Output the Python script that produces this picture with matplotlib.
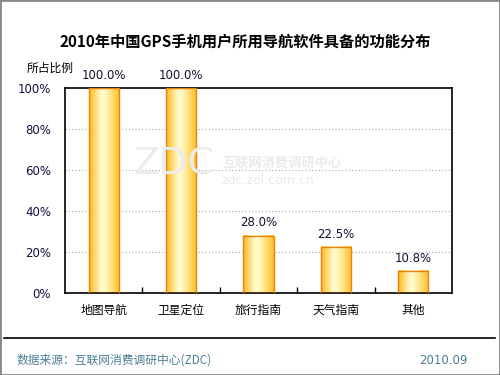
import matplotlib
matplotlib.use("Agg")
import matplotlib.pyplot as plt
import numpy as np
from matplotlib.colors import LinearSegmentedColormap
from matplotlib.patches import Rectangle

plt.rcParams["font.family"] = ["Noto Sans CJK SC", "DejaVu Sans"]

# ── Données ───────────────────────────────────────────────────────────────────
categories = ["地图导航", "卫星定位", "旅行指南", "天气指南", "其他"]
values = [100.0, 100.0, 28.0, 22.5, 10.8]
yticks = [0, 20, 40, 60, 80, 100]

title = "2010年中国GPS手机用户所用导航软件具备的功能分布"
source = "数据来源：互联网消费调研中心(ZDC)"
date = "2010.09"

W, H = 500, 375
fig = plt.figure(figsize=(W / 100, H / 100), dpi=100)
fig.patch.set_facecolor("white")

# axes : x 65→452, y 88→293 (pixels)
ax = fig.add_axes([65 / W, 1 - 293 / H, (452 - 65) / W, (293 - 88) / H])

cmap = LinearSegmentedColormap.from_list(
    "bar", [(0.0, "#FFB81C"), (0.40, "#FFFCD2"), (0.55, "#FFF6B8"), (1.0, "#FFBE28")]
)
grad = np.linspace(0, 1, 64).reshape(1, -1)

bw = 0.39
x = np.arange(len(categories))
for xi, v in zip(x, values):
    ax.imshow(grad, cmap=cmap, aspect="auto", extent=[xi - bw / 2, xi + bw / 2, 0, v],
              zorder=2, interpolation="bicubic")
    ax.add_patch(Rectangle((xi - bw / 2, 0), bw, v, fill=False,
                           edgecolor="#E8820C", linewidth=1.0, zorder=3))
    ax.text(xi, v + 3, f"{v:.1f}%", ha="center", va="bottom",
            fontsize=8.5, color="#101030", family="DejaVu Sans")

ax.set_xlim(-0.5, len(categories) - 0.5)
ax.set_ylim(0, 100)
ax.set_yticks(yticks)
ax.set_yticklabels([f"{t}%" for t in yticks], fontsize=8.5, color="#101040",
                   family="DejaVu Sans")
ax.set_xticks(x)
ax.set_xticklabels(categories, fontsize=8.5)
ax.tick_params(axis="x", length=0, pad=8)
ax.tick_params(axis="y", length=0, pad=10)
ax.set_xticks(np.arange(0.5, len(categories) - 0.5, 1), minor=True)
ax.tick_params(axis="x", which="minor", direction="in", length=4, width=1)

for t in yticks[1:-1]:
    ax.axhline(t, color="#AAAAAA", linestyle=(0, (1, 2)), linewidth=0.8, zorder=1)

for s in ax.spines.values():
    s.set_linewidth(1.2)

# filigrane
fig.text(133 / W, 1 - 165 / H, "ZDC", fontsize=27, color="#ECECEC", va="center",
         family="DejaVu Sans", zorder=0)
fig.text(222 / W, 1 - 163 / H, "互联网消费调研中心", fontsize=9.5, color="#EAEAEA",
         va="center", fontweight="bold")
fig.text(222 / W, 1 - 181 / H, "zdc.zol.com.cn", fontsize=9, color="#EAEAEA",
         va="center", family="DejaVu Sans")

# titres
fig.text(0.49, 1 - 42 / H, title, ha="center", va="center", fontsize=11,
         fontweight="bold", color="black")
fig.text(27 / W, 1 - 68 / H, "所占比例", ha="left", va="center", fontsize=8.5)

# pied de page
fig.add_artist(plt.Line2D([4 / W, 495 / W], [1 - 338 / H] * 2, color="black", linewidth=1.2))
fig.text(17 / W, 1 - 360 / H, source, ha="left", va="center", fontsize=8.5, color="#4A7E96")
fig.text(467 / W, 1 - 360 / H, date, ha="right", va="center", fontsize=8.5,
         color="#4A7E96", family="DejaVu Sans")

# bordure
fig.add_artist(Rectangle((0, 0), 1, 1, transform=fig.transFigure, fill=False,
                         edgecolor="#888888", linewidth=2))

fig.savefig("out.png", dpi=100)
